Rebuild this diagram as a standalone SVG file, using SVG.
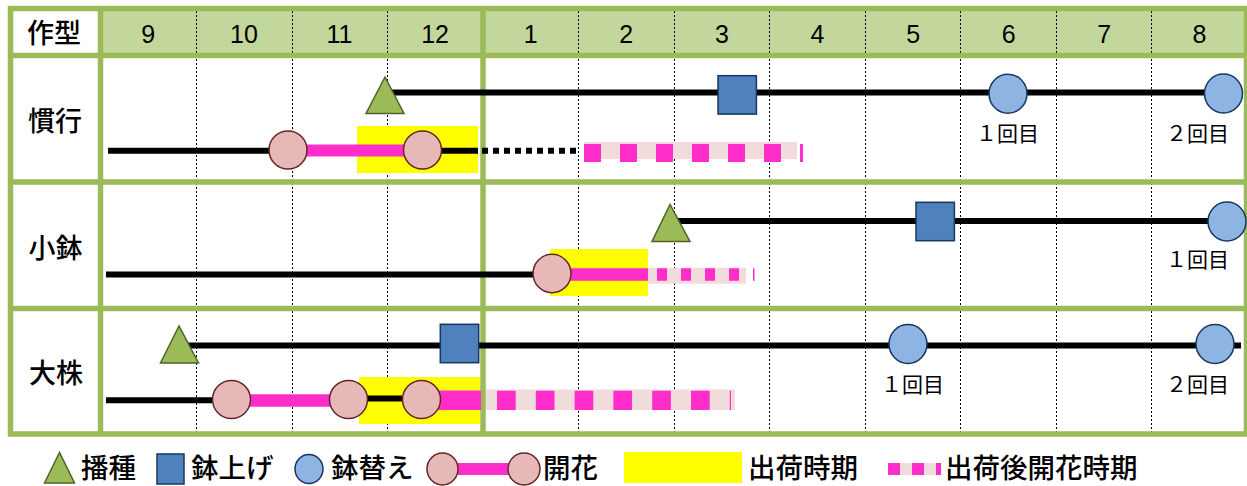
<svg xmlns="http://www.w3.org/2000/svg" width="1247" height="486" viewBox="0 0 1247 486">
<style>
.lbl{font-family:"Noto Sans CJK JP","Noto Sans",sans-serif;font-size:27px;font-weight:500;fill:#000;text-anchor:middle}
.mon{font-family:"Liberation Sans",Arial,sans-serif;font-size:25px;fill:#000;text-anchor:middle}
.cnt{font-family:"Noto Sans CJK JP","Noto Sans",sans-serif;font-size:21px;fill:#000;text-anchor:middle}
.leg{font-family:"Noto Sans CJK JP","Noto Sans",sans-serif;font-size:27.5px;font-weight:500;fill:#000}
.grid{stroke:#9BBB59;stroke-width:5.5;fill:none}
.dot{stroke:#000;stroke-width:1;stroke-dasharray:2 2}
.blk{stroke:#000;stroke-width:6;fill:none}
.pk{stroke:#FF2DCA;fill:none}
.lp{stroke:#F2DCDB;fill:none}
.tri{fill:#9BBB59;stroke:#4F6228;stroke-width:1.5}
.sq{fill:#4F81BD;stroke:#17375E;stroke-width:1.5}
.bc{fill:#8DB4E2;stroke:#17375E;stroke-width:1.5}
.pc{fill:#E6B9B8;stroke:#632523;stroke-width:1.5}
.yl{fill:#FFFF00}
</style>
<rect x="0" y="0" width="1247" height="486" fill="#fff"/>
<g id="grid">
<rect x="100.5" y="8.5" width="1146" height="47" fill="#C3D69B"/>
<g>
<line class="dot" x1="196.5" y1="11" x2="196.5" y2="432"/>
<line class="dot" x1="292.5" y1="11" x2="292.5" y2="432"/>
<line class="dot" x1="387.5" y1="11" x2="387.5" y2="432"/>
<line class="dot" x1="578.5" y1="11" x2="578.5" y2="432"/>
<line class="dot" x1="674.5" y1="11" x2="674.5" y2="432"/>
<line class="dot" x1="769.5" y1="11" x2="769.5" y2="432"/>
<line class="dot" x1="865.5" y1="11" x2="865.5" y2="432"/>
<line class="dot" x1="960.5" y1="11" x2="960.5" y2="432"/>
<line class="dot" x1="1056.5" y1="11" x2="1056.5" y2="432"/>
<line class="dot" x1="1151.5" y1="11" x2="1151.5" y2="432"/>
</g>
<rect class="grid" x="10.5" y="8.5" width="1236" height="425.5"/>
<line class="grid" x1="10.5" y1="55.5" x2="1246.5" y2="55.5"/>
<line class="grid" x1="10.5" y1="182" x2="1246.5" y2="182"/>
<line class="grid" x1="10.5" y1="308.5" x2="1246.5" y2="308.5"/>
<line class="grid" x1="100.5" y1="8.5" x2="100.5" y2="434"/>
<line class="grid" x1="483" y1="8.5" x2="483" y2="434"/>
</g>
<g id="header">
<text class="lbl" x="54" y="43">作型</text>
<text class="mon" x="148.3" y="43">9</text>
<text class="mon" x="243.9" y="43">10</text>
<text class="mon" x="339.5" y="43">11</text>
<text class="mon" x="435.1" y="43">12</text>
<text class="mon" x="530.7" y="43">1</text>
<text class="mon" x="626.3" y="43">2</text>
<text class="mon" x="721.9" y="43">3</text>
<text class="mon" x="817.5" y="43">4</text>
<text class="mon" x="913.1" y="43">5</text>
<text class="mon" x="1008.7" y="43">6</text>
<text class="mon" x="1104.3" y="43">7</text>
<text class="mon" x="1199.5" y="43">8</text>
<text class="lbl" x="55" y="130.5">慣行</text>
<text class="lbl" x="55.5" y="258">小鉢</text>
<text class="lbl" x="56" y="382.5">大株</text>
</g>
<g id="shipping">
<rect class="yl" x="357" y="126" width="121" height="47"/>
<rect class="yl" x="550" y="249" width="98" height="47"/>
<rect class="yl" x="359" y="377" width="121" height="47"/>
</g>
<g id="connectors">
<line class="blk" x1="385" y1="92.5" x2="1223" y2="92.5"/>
<line class="blk" x1="108" y1="150.7" x2="478" y2="150.7"/>
<line class="pk" stroke-width="12" x1="288" y1="150.5" x2="422" y2="150.5"/>
<line class="blk" stroke-dasharray="6 5" x1="482" y1="150.7" x2="580" y2="150.7"/>
<line class="lp" stroke-width="17" x1="584" y1="150.5" x2="797" y2="150.5"/>
<line class="pk" stroke-width="18" stroke-dasharray="17 19" x1="584" y1="153" x2="803" y2="153"/>

<line class="blk" x1="670" y1="221" x2="1227" y2="221"/>
<line class="blk" x1="106" y1="274.5" x2="552" y2="274.5"/>
<line class="pk" stroke-width="12.5" x1="552" y1="274.5" x2="648" y2="274.5"/>
<line class="lp" stroke-width="16" x1="648" y1="275.7" x2="746" y2="275.7"/>
<line class="pk" stroke-width="12.5" stroke-dasharray="10 14" x1="657" y1="274.5" x2="754.5" y2="274.5"/>

<line class="blk" x1="179" y1="345.5" x2="1241" y2="345.5"/>
<line class="blk" x1="106" y1="400.3" x2="231" y2="400.3"/>
<line class="pk" stroke-width="12.5" x1="231" y1="400.5" x2="348" y2="400.5"/>
<line class="blk" stroke-width="5" x1="348" y1="398.5" x2="421" y2="398.5"/>
<line class="pk" stroke-width="19.5" x1="421" y1="400.3" x2="481" y2="400.3"/>
<line class="lp" stroke-width="20.5" x1="486" y1="399.7" x2="735" y2="399.7"/>
<line class="pk" stroke-width="19.3" stroke-dasharray="18.7 20.1" x1="497" y1="400.3" x2="731" y2="400.3"/>
</g>
<g id="row-kanko">
<polygon class="tri" points="385,77 366,113.5 404,113.5"/>
<rect class="sq" x="718" y="75.7" width="38.4" height="38.4"/>
<ellipse class="bc" cx="1008" cy="93.7" rx="19" ry="19.5"/>
<ellipse class="bc" cx="1223.5" cy="93.5" rx="19" ry="19.5"/>
<circle class="pc" cx="288" cy="150" r="19"/>
<circle class="pc" cx="422.5" cy="150" r="19"/>
<text class="cnt" x="1007.5" y="141">１回目</text>
<text class="cnt" x="1197.5" y="141">２回目</text>
</g>
<g id="row-kobachi">
<polygon class="tri" points="670,204.5 652,241.5 690,241.5"/>
<rect class="sq" x="916" y="202.3" width="38.4" height="38.4"/>
<ellipse class="bc" cx="1227" cy="221.5" rx="19" ry="19.5"/>
<ellipse class="pc" cx="552" cy="273.5" rx="19" ry="19.2"/>
<text class="cnt" x="1197.5" y="267">１回目</text>
</g>
<g id="row-okabu">
<polygon class="tri" points="179,326 160.5,363 198.5,363"/>
<rect class="sq" x="440.3" y="324.3" width="38.4" height="38.4"/>
<ellipse class="bc" cx="908" cy="344" rx="19" ry="19.5"/>
<ellipse class="bc" cx="1215" cy="344" rx="19" ry="19.5"/>
<circle class="pc" cx="231.5" cy="399.5" r="19"/>
<circle class="pc" cx="348.5" cy="399.5" r="19"/>
<circle class="pc" cx="421.5" cy="399.5" r="19"/>
<text class="cnt" x="912.5" y="392">１回目</text>
<text class="cnt" x="1197.5" y="392">２回目</text>
</g>
<g id="legend">
<polygon class="tri" points="59.5,452.5 44.5,483 74.5,483"/>
<text class="leg" x="81" y="478">播種</text>
<rect class="sq" x="157" y="454" width="27" height="30"/>
<text class="leg" x="191" y="478">鉢上げ</text>
<ellipse class="bc" cx="309" cy="469" rx="14" ry="14.5"/>
<text class="leg" x="331" y="478">鉢替え</text>
<line class="pk" stroke-width="12" x1="458" y1="469" x2="508" y2="469"/>
<ellipse class="pc" cx="442.5" cy="469" rx="15.5" ry="16"/>
<ellipse class="pc" cx="524" cy="469" rx="16" ry="16"/>
<text class="leg" x="543" y="478">開花</text>
<rect class="yl" x="624" y="452" width="118" height="31"/>
<text class="leg" x="748" y="478">出荷時期</text>
<line class="lp" stroke-width="12" x1="888" y1="469" x2="941" y2="469"/>
<line class="pk" stroke-width="12" stroke-dasharray="12 12" x1="888" y1="469" x2="941" y2="469"/>
<text class="leg" x="945" y="478">出荷後開花時期</text>
</g>
</svg>
